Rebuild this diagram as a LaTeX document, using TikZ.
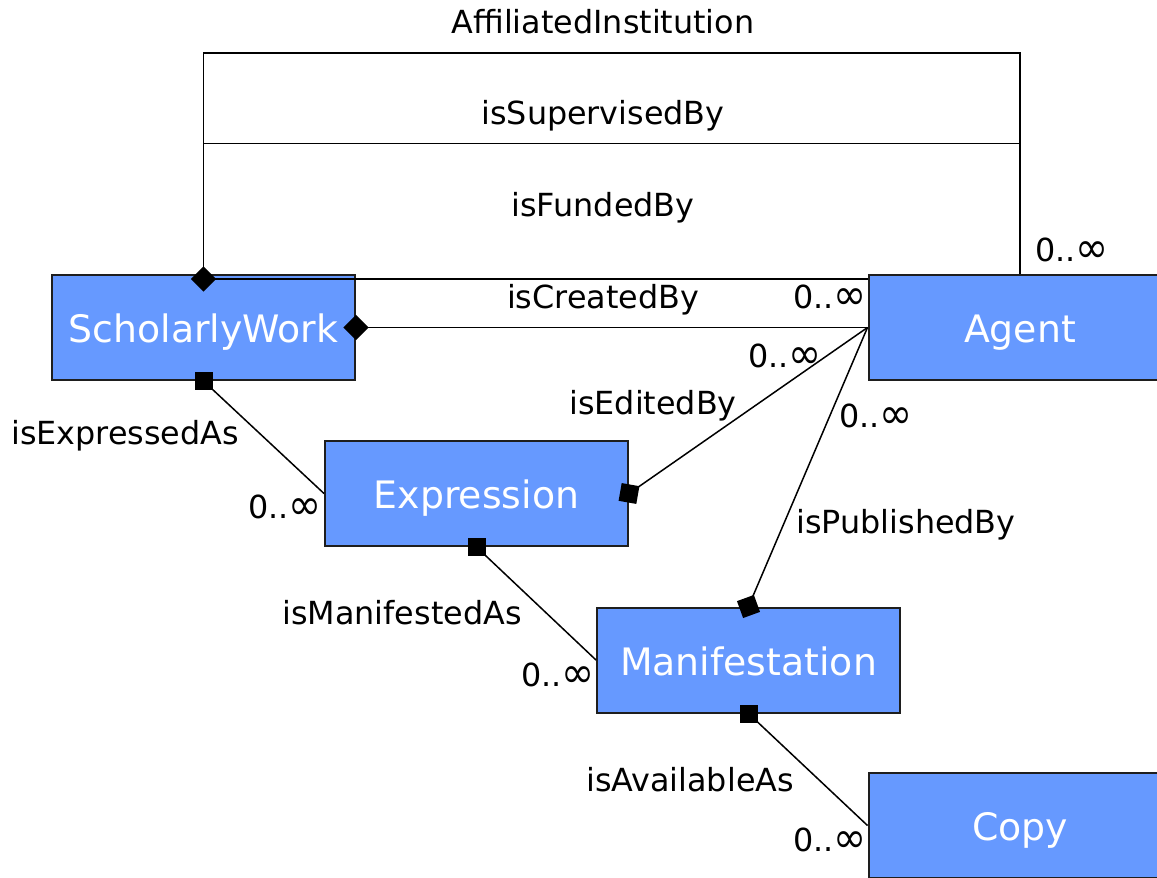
\documentclass[tikz,border=0pt]{standalone}
\usepackage{fontspec}
\setmainfont{DejaVu Sans}
\usetikzlibrary{calc}
\definecolor{boxblue}{RGB}{102,153,255}
\definecolor{boxline}{RGB}{30,30,30}
% multiplicity "zero to many"
\newcommand{\zeromany}{0..\raisebox{-0.6pt}{\scalebox{1.25}[1.35]{∞}}}
\begin{document}
\begin{tikzpicture}[x=0.5pt,y=-0.5pt,
  entity/.style={draw=boxline,line width=1pt,fill=boxblue,text=white,
    minimum width=151.5pt,minimum height=52.5pt,inner sep=0pt,
    text height=15.3pt,text depth=0pt,
    font=\fontsize{18.9}{22}\selectfont},
  rel/.style={font=\fontsize{15.9}{19}\selectfont,inner sep=0pt},
  desc/.style={yshift=-1.5pt},
  conn/.style={draw=black,line width=0.75pt},
  sqmark/.style={fill=black,minimum size=9pt,inner sep=0pt},
  dmmark/.style={fill=black,minimum size=9pt,inner sep=0pt,rotate=45}]
\useasboundingbox (0,0) rectangle (1157,878);

% classes
\node[entity] (SW) at (203.5,327.5) {ScholarlyWork};
\node[entity] (AG) at (1020,327.5) {Agent};
\node[entity] (EX) at (476.5,493.5) {Expression};
\node[entity] (MA) at (748.5,660) {Manifestation};
\node[entity] (CP) at (1020,825.5) {Copy};

% routing points for the upper associations
\coordinate (tl) at (203.5,53);
\coordinate (tr) at (1020,53);
\coordinate (ml) at (203.5,143.5);
\coordinate (mr) at (1020,143.5);
\coordinate (topd) at ($(SW.north)+(0,5)$);

% associations
\draw[conn] (topd) -- (tl) -- (tr) -- (AG.north);
\draw[conn] (ml) -- (mr);
\draw[conn] (topd) -- (topd -| AG.west);
\draw[conn] (SW.east) -- (AG.west);
\draw[conn] (AG.west) -- (EX.east);
\draw[conn] (AG.west) -- (MA.north);
\draw[conn] (SW.south) -- (EX.west);
\draw[conn] (EX.south) -- (MA.west);
\draw[conn] (MA.south) -- (CP.west);

% end markers
\node[dmmark] (mTop) at (topd) {};
\node[dmmark] (mRight) at (SW.east) {};
\node[sqmark] (mSW) at (SW.south) {};
\node[sqmark,rotate=-10] (mEXe) at (EX.east) {};
\node[sqmark] (mEXs) at (EX.south) {};
\node[sqmark,rotate=20] (mMAn) at (MA.north) {};
\node[sqmark] (mMAs) at (MA.south) {};

% association names
\node[rel] (lAff) at (603,22) {AffiliatedInstitution};
\node[rel,desc] (lSup) at (603,113) {isSupervisedBy};
\node[rel,desc] (lFun) at (603,205) {isFundedBy};
\node[rel,desc] (lCre) at (603,297) {isCreatedBy};
\node[rel,desc] (lEdi) at (653,403) {isEditedBy};
\node[rel,desc] (lExp) at (125,433) {isExpressedAs};
\node[rel,desc] (lPub) at (906,522) {isPublishedBy};
\node[rel] (lMan) at (402,613) {isManifestedAs};
\node[rel] (lAva) at (690,780) {isAvailableAs};

% multiplicities
\node[rel] (c1) at (1072,250) {\zeromany};
\node[rel] (c2) at (830,297) {\zeromany};
\node[rel] (c3) at (785,356) {\zeromany};
\node[rel] (c4) at (876,416) {\zeromany};
\node[rel] (c5) at (285,507) {\zeromany};
\node[rel] (c6) at (558,675) {\zeromany};
\node[rel] (c7) at (830,840) {\zeromany};
\end{tikzpicture}
\end{document}
